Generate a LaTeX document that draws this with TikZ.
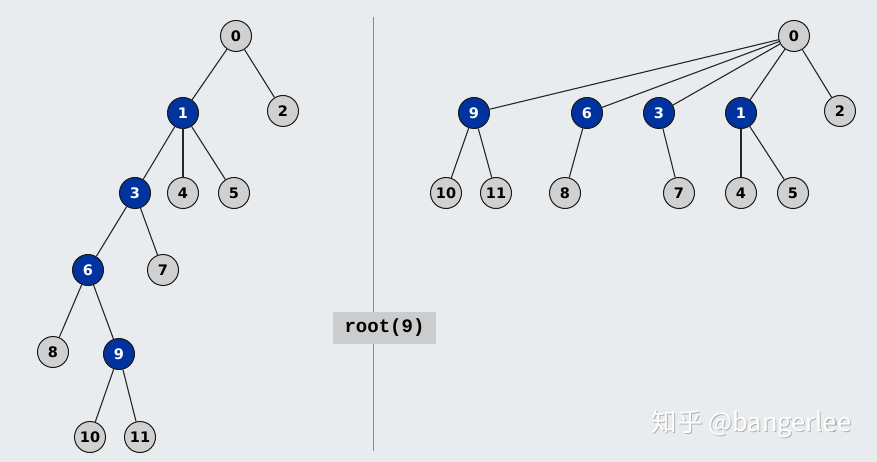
\documentclass[tikz,border=0pt]{standalone}
\usepackage{fontspec}
\newfontfamily\nodefont{DejaVu Sans}
\newfontfamily\codefont{Liberation Mono}
\newfontfamily\cjk{Noto Sans CJK SC}
\definecolor{bg}{HTML}{E9ECEE}
\definecolor{bluenode}{HTML}{0033A0}
\definecolor{graynode}{HTML}{D0D0D0}
\definecolor{boxgray}{HTML}{CCCCCC}
\definecolor{divider}{HTML}{8A8A8A}
\tikzset{
  tn/.style={circle, draw=black!90, line width=1pt, minimum size=31pt, inner sep=0pt,
    font=\nodefont\bfseries\fontsize{14.5}{14.5}\selectfont},
  gn/.style={tn, fill=graynode, text=black},
  bn/.style={tn, fill=bluenode, text=white},
  edge/.style={draw=black!85, line width=1.1pt},
}
\begin{document}
\begin{tikzpicture}[x=1pt,y=-1pt]
\fill[bg] (0,0) rectangle (877,462);
\useasboundingbox (0,0) rectangle (877,462);
% divider
\coordinate (dtop) at (373.5,17);
\coordinate (dbot) at (373.5,451);
\draw[divider, line width=1.3pt] (dtop) -- (dbot);
\node[fill=boxgray, minimum width=103pt, minimum height=32pt, inner sep=0pt,
  font=\codefont\bfseries\fontsize{19}{19}\selectfont] (lbl) at (384.5,328) {root(9)};
% edges first (behind nodes)
\begin{scope}
% left tree
\node[gn] (L0) at (236,36) {0};
\node[bn] (L1) at (183,113) {1};
\node[gn] (L2) at (283,111) {2};
\node[bn] (L3) at (135,193) {3};
\node[gn] (L4) at (183,193) {4};
\node[gn] (L5) at (234,193) {5};
\node[bn] (L6) at (88,270) {6};
\node[gn] (L7) at (163,270) {7};
\node[gn] (L8) at (53,352) {8};
\node[bn] (L9) at (119,354) {9};
\node[gn] (L10) at (90,437) {10};
\node[gn] (L11) at (140,437) {11};
% right tree
\node[gn] (R0) at (794,36) {0};
\node[bn] (R9) at (474,113) {9};
\node[bn] (R6) at (587,113) {6};
\node[bn] (R3) at (659,113) {3};
\node[bn] (R1) at (741,113) {1};
\node[gn] (R2) at (840,111) {2};
\node[gn] (R10) at (446,193) {10};
\node[gn] (R11) at (496,193) {11};
\node[gn] (R8) at (565,193) {8};
\node[gn] (R7) at (679,193) {7};
\node[gn] (R4) at (741,193) {4};
\node[gn] (R5) at (793,193) {5};
\end{scope}
% edges
\foreach \a/\b in {L0/L1,L0/L2,L1/L3,L1/L4,L1/L5,L3/L6,L3/L7,L6/L8,L6/L9,L9/L10,L9/L11,
  R0/R9,R0/R6,R0/R3,R0/R1,R0/R2,R9/R10,R9/R11,R6/R8,R3/R7,R1/R4,R1/R5}
  \draw[edge] (\a) -- (\b);
% watermark
\node[anchor=west, text=black!30, font=\cjk\fontsize{25.5}{25.5}\selectfont] (wms) at (649.2,425.2) {知乎 @bangerlee};
\node[anchor=west, text=white, font=\cjk\fontsize{25.5}{25.5}\selectfont] (wm) at (648,424) {知乎 @bangerlee};
\end{tikzpicture}
\end{document}
